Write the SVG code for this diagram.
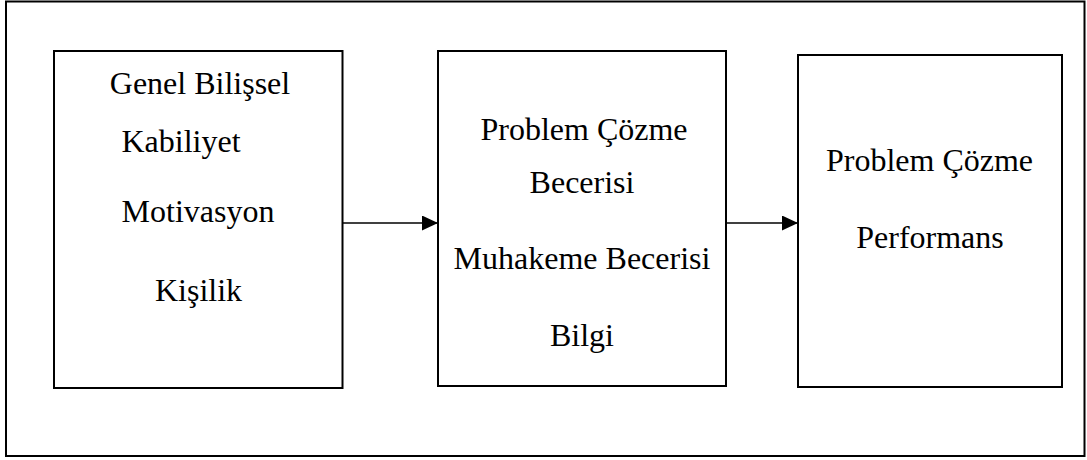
<svg xmlns="http://www.w3.org/2000/svg" width="1087" height="460" viewBox="0 0 1087 460">
<style>
.box{fill:#fff;stroke:#000;stroke-width:2}
.t{font-family:"Liberation Serif","Times New Roman",serif;font-size:32px;fill:#000;text-anchor:middle}
.conn{stroke:#000;stroke-width:1.6;fill:none}
</style>
<defs>
<marker id="ah" markerUnits="userSpaceOnUse" markerWidth="17" markerHeight="16" refX="16" refY="7.5" orient="auto">
<path d="M0,0 L16,7.5 L0,15 Z" fill="#000"/>
</marker>
</defs>
<rect x="0" y="0" width="1087" height="460" fill="#fff"/>
<rect id="frame" x="6" y="1.5" width="1078.5" height="454.5" fill="none" stroke="#000" stroke-width="2"/>
<g id="node1">
<rect class="box" x="54" y="51" width="288.5" height="337"/>
<text class="t" x="200" y="94">Genel Bilişsel</text>
<text class="t" x="181" y="152">Kabiliyet</text>
<text class="t" x="198" y="222">Motivasyon</text>
<text class="t" x="198.5" y="301">Kişilik</text>
</g>
<g id="node2">
<rect class="box" x="438" y="51" width="288" height="335"/>
<text class="t" x="584" y="140">Problem Çözme</text>
<text class="t" x="582" y="193">Becerisi</text>
<text class="t" x="582" y="269">Muhakeme Becerisi</text>
<text class="t" x="582" y="346">Bilgi</text>
</g>
<g id="node3">
<rect class="box" x="798" y="55" width="264" height="332"/>
<text class="t" x="929.5" y="171">Problem Çözme</text>
<text class="t" x="930" y="248">Performans</text>
</g>
<g id="connectors">
<line class="conn" x1="343" y1="223" x2="438" y2="223" marker-end="url(#ah)"/>
<line class="conn" x1="727" y1="223" x2="798" y2="223" marker-end="url(#ah)"/>
</g>
</svg>
